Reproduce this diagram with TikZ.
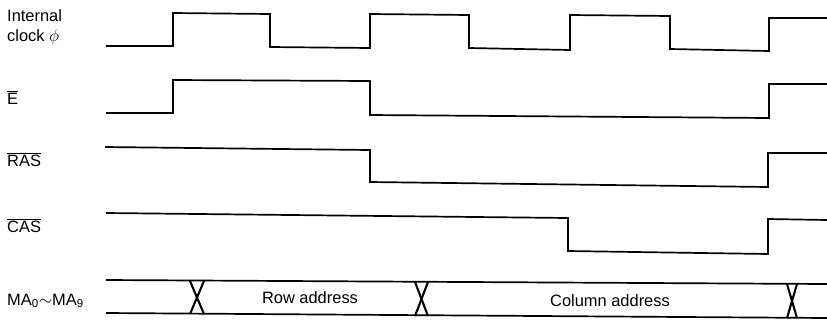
\documentclass[tikz,border=0pt]{standalone}
\usepackage{fontspec}
\setmainfont{Liberation Sans}
\newcommand\ovlbar[1]{$\overline{\mbox{#1}}$}
\begin{document}
\begin{tikzpicture}[x=1bp,y=-1bp,
  wave/.style={line width=1.7bp,line join=miter},
  cross/.style={line width=2.1bp},
  lbl/.style={inner sep=0pt,anchor=base west,font=\fontsize{16.5}{20}\selectfont},
  txt/.style={inner sep=0pt,anchor=base,font=\fontsize{16.5}{20}\selectfont}]
\useasboundingbox (0,0) rectangle (827,321);
% Internal clock
\draw[wave] (106,46) -- (173,46) -- (173,13) -- (270,14) -- (270,47) -- (370,48)
  -- (370,14) -- (469,15) -- (469,48) -- (570,50) -- (570,15) -- (670,16)
  -- (670,49) -- (769,51) -- (769,18) -- (827,18);
% E
\draw[wave] (106,113) -- (173,113) -- (173,80) -- (370,81) -- (370,115)
  -- (769,118) -- (769,84) -- (827,84);
% RAS
\draw[wave] (105,147) -- (370,150) -- (370,182) -- (768,187) -- (768,153) -- (827,153);
% CAS
\draw[wave] (106,213) -- (568,218) -- (568,251) -- (768,254) -- (768,219) -- (827,220);
% MA bus
\draw[wave] (106,280) -- (827,284);
\draw[wave] (106,313) -- (827,318);
\draw[cross] (190,281) -- (204,314);
\draw[cross] (204,281) -- (190,314);
\draw[cross] (415,282) -- (428,316);
\draw[cross] (428,282) -- (415,316);
\draw[cross] (787,284) -- (797,318);
\draw[cross] (797,284) -- (787,318);
% labels
\node[lbl] (l1) at (7,21) {Internal};
\node[lbl] (l2) at (7,41) {clock $\phi$};
\node[lbl] (le) at (7,104) {\ovlbar{E}};
\node[lbl] (lras) at (7,166) {\ovlbar{RAS}};
\node[lbl] (lcas) at (7,232) {\ovlbar{CAS}};
\node[lbl] (lma) at (7,305) {MA\textsubscript{0}$\sim$MA\textsubscript{9}};
\node[txt] (row) at (310,303) {Row address};
\node[txt] (col) at (610,306) {Column address};
\end{tikzpicture}
\end{document}
